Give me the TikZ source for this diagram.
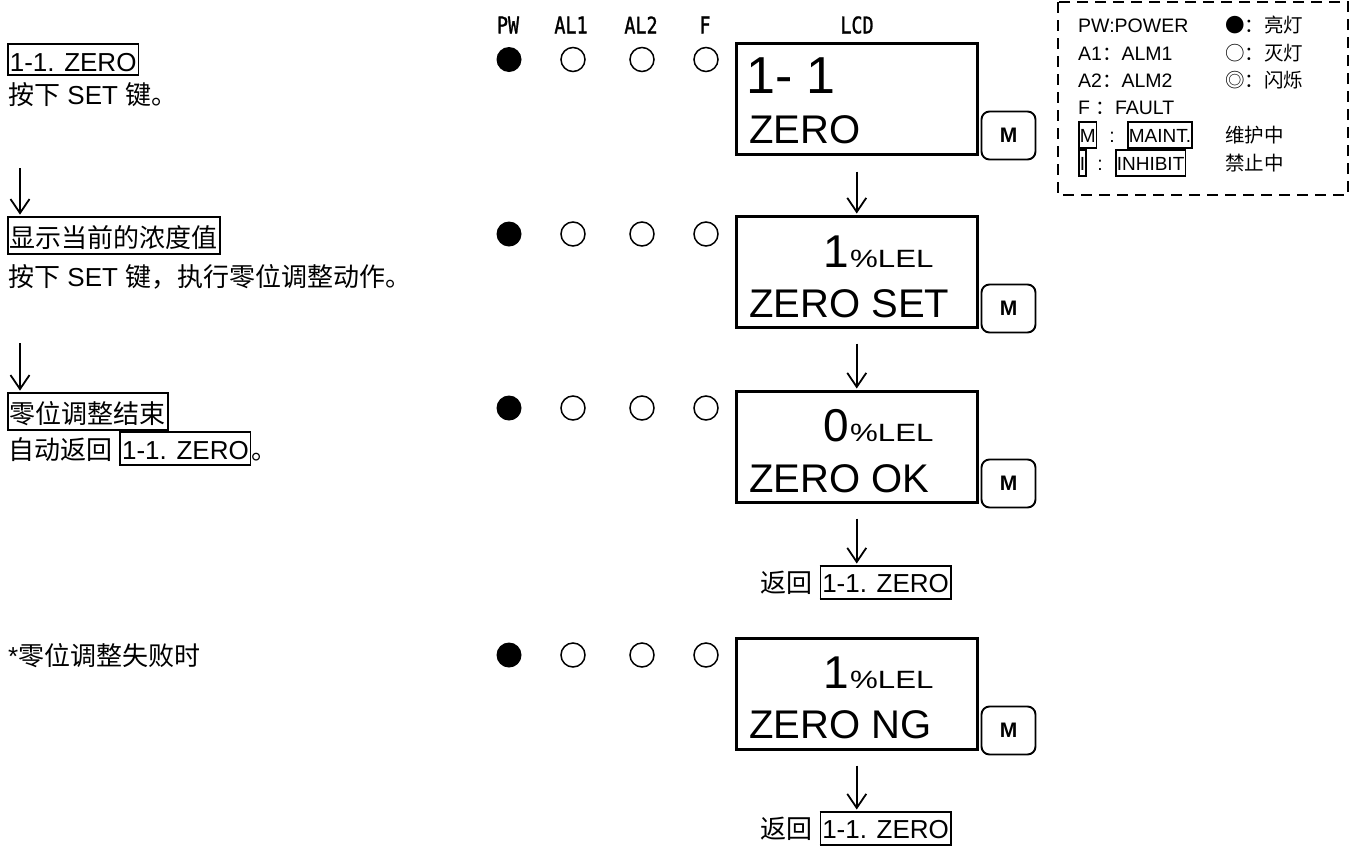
\documentclass[tikz,border=0pt]{standalone}
\usepackage{fontspec}
\setmainfont{Liberation Sans}
\newfontfamily\cjk{Noto Sans CJK SC}
\newfontfamily\hdrfont[FakeStretch=0.8,FakeBold=1.2]{DejaVu Sans Mono}
\newfontfamily\widefont[FakeStretch=1.25]{Liberation Sans}
\usetikzlibrary{arrows.meta}
\newcommand\fsz[1]{\fontsize{#1}{#1}\selectfont}
\newcommand\bx[1]{{\setlength\fboxsep{1pt}\setlength\fboxrule{1.7pt}\fbox{\rule[-4pt]{0pt}{29pt}#1}}}
\begin{document}
\begin{tikzpicture}[x=1pt,y=-1pt,
  lbox/.style={anchor=base west, draw, line width=1.7pt, inner xsep=2pt, inner ysep=0pt, text height=27pt, text depth=4pt, font=\fsz{26}},
  cbox/.style={anchor=base west, draw, line width=1.7pt, inner xsep=2pt, inner ysep=0pt, text height=30pt, text depth=7pt, font=\fsz{26}\cjk},
  ltext/.style={anchor=base west, inner sep=0pt, font=\fsz{26}},
  arr/.style={line width=1.8pt, shorten >=1.5pt, -{Straight Barb[length=14pt,width=19pt,line width=1.8pt]}},
  ledon/.style={circle, fill=black, minimum size=25pt, inner sep=0pt},
  ledoff/.style={circle, draw, line width=1.5pt, minimum size=24pt, inner sep=0pt},
  hdr/.style={inner sep=0pt, font=\hdrfont\fsz{23}},
  lcd/.style={draw, line width=2.5pt, minimum width=241pt, minimum height=111pt, anchor=north west, inner sep=0pt},
  lcdbig/.style={anchor=base west, inner sep=0pt, font=\fsz{52}},
  lcdmid/.style={anchor=base west, inner sep=0pt, font=\fsz{40}},
  lcddig/.style={anchor=base east, inner sep=0pt, font=\fsz{46}},
  lcdunit/.style={anchor=base west, inner sep=0pt, font=\widefont\fsz{25}},
  mbtn/.style={draw, line width=1.9pt, rounded corners=8pt, minimum width=54pt, minimum height=48pt, inner sep=0pt, font=\bfseries\fsz{21}},
  legend/.style={line width=1.8pt, dash pattern=on 11pt off 7pt},
  lg/.style={anchor=base west, inner sep=0pt, font=\fsz{19.5}},
  lgbox/.style={anchor=base west, draw, line width=1.6pt, inner xsep=1pt, inner ysep=0pt, text height=20pt, text depth=6pt, font=\fsz{19}}
]
\useasboundingbox (0,0) rectangle (1358,847);

% left column
\node[lbox] (t1) at (7,71) {1-1. ZERO};
\node[ltext] (t1b) at (8,104) {{\cjk 按下} SET {\cjk 键。}};
\node[cbox] (t2) at (7,247) {显示当前的浓度值};
\node[ltext] (t2b) at (8,286) {{\cjk 按下} SET {\cjk 键，执行零位调整动作。}};
\node[cbox] (t3) at (7,423) {零位调整结束};
\node[ltext] (t3b) at (8,459) {{\cjk 自动返回} \bx{1-1. ZERO}{\cjk 。}};
\node[ltext] (t4) at (8,665) {*{\cjk 零位调整失败时}};

\coordinate (la1) at (20,168);
\draw[arr] (la1) -- (la1 |- t2.north);
\coordinate (la2) at (20,343);
\draw[arr] (la2) -- (la2 |- t3.north);

% headers
\node[hdr] (hpw) at (508,25) {PW};
\node[hdr] (hal1) at (571,25) {AL1};
\node[hdr] (hal2) at (641,25) {AL2};
\node[hdr] (hf) at (705,25) {F};
\node[hdr] (hlcd) at (857,25) {LCD};

% LEDs
\foreach \yy [count=\r] in {59.5,234,408,655} {
  \node[ledon] (pw\r) at (509,\yy) {};
  \node[ledoff] (aa\r) at (573,\yy) {};
  \node[ledoff] (ab\r) at (642,\yy) {};
  \node[ledoff] (fl\r) at (706,\yy) {};
}

% LCD boxes
\node[lcd] (b1) at (735,42) {};
\node[lcd] (b2) at (735,215) {};
\node[lcd] (b3) at (735,390) {};
\node[lcd] (b4) at (735,637) {};

\node[lcdbig] (b1a) at (746,93) {1- 1};
\node[lcdmid] (b1b) at (749,143) {ZERO};

\node[lcddig] (b2d) at (849,267) {1};
\node[lcdunit] (b2u) at (850,267) {\%LEL};
\node[lcdmid] (b2b) at (749,317) {ZERO SET};

\node[lcddig] (b3d) at (849,441) {0};
\node[lcdunit] (b3u) at (850,441) {\%LEL};
\node[lcdmid] (b3b) at (749,492) {ZERO OK};

\node[lcddig] (b4d) at (849,688) {1};
\node[lcdunit] (b4u) at (850,688) {\%LEL};
\node[lcdmid] (b4b) at (749,738) {ZERO NG};

% M buttons
\node[mbtn] (m1) at ([xshift=30pt,yshift=20pt]b1.south east) {M};
\node[mbtn] (m2) at ([xshift=30pt,yshift=20pt]b2.south east) {M};
\node[mbtn] (m3) at ([xshift=30pt,yshift=20pt]b3.south east) {M};
\node[mbtn] (m4) at ([xshift=30pt,yshift=20pt]b4.south east) {M};

% return labels
\node[ltext, anchor=north] (r1) at (856,565) {{\cjk 返回} \bx{1-1. ZERO}};
\node[ltext, anchor=north] (r2) at (856,811) {{\cjk 返回} \bx{1-1. ZERO}};

% arrows
\draw[arr] ([yshift=-16pt]b1.south) -- (b2.north);
\draw[arr] ([yshift=-15pt]b2.south) -- (b3.north);
\draw[arr] ([yshift=-15pt]b3.south) -- (b3.south |- r1.north);
\draw[arr] ([yshift=-15pt]b4.south) -- (b4.south |- r2.north);

% legend
\draw[legend] (1058,2) rectangle (1348,195);
\node[lg] (lg1) at (1078,32) {PW:POWER};
\node[lg] (lg1r) at (1225,32) {\cjk ●：亮灯};
\node[lg] (lg2) at (1078,60) {A1{\cjk ：}ALM1};
\node[lg] (lg2r) at (1225,60) {\cjk ○：灭灯};
\node[lg] (lg3) at (1078,87) {A2{\cjk ：}ALM2};
\node[lg] (lg3r) at (1225,87) {\cjk ◎：闪烁};
\node[lg] (lg4) at (1078,114) {F {\cjk ：}FAULT};
\node[lgbox] (lg5a) at (1078,142) {M};
\node[lg, anchor=base] (lg5b) at (1112,142) {:};
\node[lgbox] (lg5c) at (1127,142) {MAINT.};
\node[lg] (lg5r) at (1225,142) {\cjk 维护中};
\node[lgbox] (lg6a) at (1078,170) {I};
\node[lg, anchor=base] (lg6b) at (1100,170) {:};
\node[lgbox] (lg6c) at (1115,170) {INHIBIT};
\node[lg] (lg6r) at (1225,170) {\cjk 禁止中};
\end{tikzpicture}
\end{document}
